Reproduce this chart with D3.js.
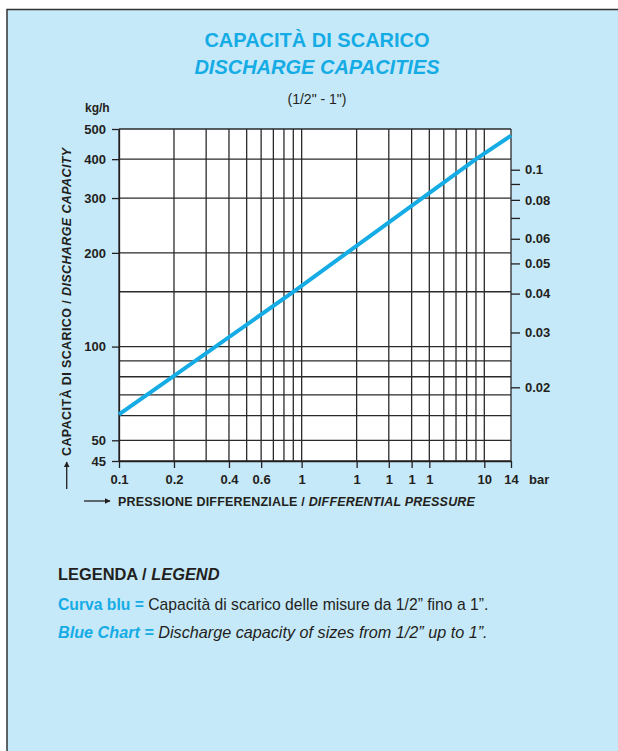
<!DOCTYPE html>
<html>
<head>
<meta charset="utf-8">
<script src="https://cdn.jsdelivr.net/npm/d3@7"></script>
<style>
  body { margin: 0; background: #fff; }
  svg { display: block; font-family: "Liberation Sans", Arial, sans-serif; }
</style>
</head>
<body>
<div id="chart"></div>
<script>
// pressure ticks (bar) and the labels printed under them (the "1"s are as in the original)
var xTicks = [0.1, 0.2, 0.4, 0.6, 1, 2, 3, 4, 5, 10, 14];
var xTickLabels = ["0.1", "0.2", "0.4", "0.6", "1", "1", "1", "1", "1", "10", "14"];
var xGrid = [0.1, 0.2, 0.3, 0.4, 0.5, 0.6, 0.7, 0.8, 0.9, 1, 2, 3, 4, 5, 6, 7, 8, 9, 10, 14];

// capacity ticks (kg/h)
var yTicks = [45, 50, 100, 200, 300, 400, 500];
var yGrid = [45, 50, 60, 70, 80, 90, 100, 150, 200, 300, 400, 500];

// secondary scale on the right
var rightTicks = [0.02, 0.03, 0.04, 0.05, 0.06, 0.07, 0.08, 0.09, 0.1];
var rightLabels = ["0.02", "0.03", "0.04", "0.05", "0.06", "", "0.08", "", "0.1"];
var rightRatio = 3700;

// blue curve, 1/2" - 1"
var curvePressure = [0.1, 0.2, 0.9, 9, 14];
var curveCapacity = [60.6, 80.5, 150, 400, 476];

var W = 618, H = 751;
var margin = { top: 129, right: 107, bottom: 290, left: 119 };
var plotW = W - margin.left - margin.right,
    plotH = H - margin.top - margin.bottom;

var ink = "#231f20", blue = "#15ace6";

var svg = d3.select("#chart").append("svg")
  .attr("width", W)
  .attr("height", H);

// panel
svg.append("rect")
  .attr("x", 7).attr("y", 9.5)
  .attr("width", W).attr("height", H)
  .attr("fill", "#c6e9f9")
  .attr("stroke", "#333")
  .attr("stroke-width", 1.5);

var x = d3.scaleLog()
  .domain([0.1, 14])
  .range([margin.left, margin.left + plotW]);

// bottom of the printed axis is squeezed: 45 sits lower than a pure log would put it
var y = d3.scaleLog()
  .domain([45, 50, 500])
  .range([margin.top + plotH, margin.top + plotH - 20.7, margin.top]);

var yRight = d3.scaleLog()
  .domain([50 / rightRatio, 500 / rightRatio])
  .range([y(50), y(500)]);

// titles
svg.append("text")
  .attr("x", 317).attr("y", 47)
  .attr("text-anchor", "middle")
  .attr("fill", blue)
  .style("font-size", "20px").style("font-weight", "bold")
  .text("CAPACITÀ DI SCARICO");

svg.append("text")
  .attr("x", 317).attr("y", 73.5)
  .attr("text-anchor", "middle")
  .attr("fill", blue)
  .style("font-size", "20px").style("font-weight", "bold").style("font-style", "italic")
  .text("DISCHARGE CAPACITIES");

svg.append("text")
  .attr("x", 317).attr("y", 104)
  .attr("text-anchor", "middle")
  .attr("fill", ink)
  .style("font-size", "14px")
  .text("(1/2\" - 1\")");

svg.append("text")
  .attr("x", 85).attr("y", 112)
  .attr("fill", ink)
  .style("font-size", "12px").style("font-weight", "bold")
  .text("kg/h");

// plot area
svg.append("rect")
  .attr("x", margin.left).attr("y", margin.top)
  .attr("width", plotW).attr("height", plotH)
  .attr("fill", "#fff");

var grid = svg.append("g")
  .attr("stroke", "#2a2a2a")
  .attr("stroke-width", 1.3);

grid.selectAll(".vx")
  .data(xGrid)
  .join("line")
  .attr("x1", d => x(d)).attr("x2", d => x(d))
  .attr("y1", margin.top).attr("y2", margin.top + plotH);

grid.selectAll(".hy")
  .data(yGrid)
  .join("line")
  .attr("x1", margin.left).attr("x2", margin.left + plotW)
  .attr("y1", d => y(d)).attr("y2", d => y(d));

// axes
var xAxis = svg.append("g")
  .attr("transform", "translate(0," + (margin.top + plotH) + ")")
  .call(d3.axisBottom(x)
    .tickValues(xTicks)
    .tickFormat((d, i) => xTickLabels[i])
    .tickSize(7)
    .tickPadding(6)
    .tickSizeOuter(0));

var yAxis = svg.append("g")
  .attr("transform", "translate(" + margin.left + ",0)")
  .call(d3.axisLeft(y)
    .tickValues(yTicks)
    .tickFormat(d3.format("d"))
    .tickSize(7)
    .tickPadding(6)
    .tickSizeOuter(0));

var rAxis = svg.append("g")
  .attr("transform", "translate(" + (margin.left + plotW) + ",0)")
  .call(d3.axisRight(yRight)
    .tickValues(rightTicks)
    .tickFormat((d, i) => rightLabels[i])
    .tickSize(9)
    .tickPadding(5)
    .tickSizeOuter(0));
rAxis.select(".domain").remove();

[xAxis, yAxis, rAxis].forEach(function (g) {
  g.select(".domain").attr("stroke", ink).attr("stroke-width", 1.3);
  g.selectAll(".tick line").attr("stroke", ink).attr("stroke-width", 1.3);
  g.selectAll(".tick text")
    .attr("fill", ink)
    .style("font-size", "13px")
    .style("font-weight", "bold")
    .style("font-family", "'Liberation Sans', Arial, sans-serif");
});
xAxis.selectAll(".tick text").attr("dy", "0.71em").attr("y", 14);

svg.append("text")
  .attr("x", x(14) + 18).attr("y", 484)
  .attr("fill", ink)
  .style("font-size", "13px").style("font-weight", "bold")
  .text("bar");

// curve
var curve = curvePressure.map((p, i) => [p, curveCapacity[i]]);
svg.append("path")
  .datum(curve)
  .attr("fill", "none")
  .attr("stroke", blue)
  .attr("stroke-width", 4)
  .attr("d", d3.line().x(d => x(d[0])).y(d => y(d[1])));

// axis titles with arrows
var defs = svg.append("defs");
defs.append("marker")
  .attr("id", "arr")
  .attr("viewBox", "0 0 10 10")
  .attr("refX", 9).attr("refY", 5)
  .attr("markerWidth", 6).attr("markerHeight", 6)
  .attr("markerUnits", "userSpaceOnUse")
  .attr("orient", "auto")
  .append("path")
  .attr("d", "M0,0L10,5L0,10z")
  .attr("fill", ink);

svg.append("line")
  .attr("x1", 84).attr("x2", 110)
  .attr("y1", 501).attr("y2", 501)
  .attr("stroke", ink).attr("stroke-width", 1.3)
  .attr("marker-end", "url(#arr)");

var xt = svg.append("text")
  .attr("x", 118).attr("y", 505.5)
  .attr("fill", ink)
  .style("font-size", "12.5px").style("font-weight", "bold")
  .style("letter-spacing", "0.2px");
xt.append("tspan").text("PRESSIONE DIFFERENZIALE / ");
xt.append("tspan").style("font-style", "italic").text("DIFFERENTIAL PRESSURE");

svg.append("line")
  .attr("x1", 66.7).attr("x2", 66.7)
  .attr("y1", 489).attr("y2", 462)
  .attr("stroke", ink).attr("stroke-width", 1.3)
  .attr("marker-end", "url(#arr)");

var yt = svg.append("text")
  .attr("transform", "translate(71,456) rotate(-90)")
  .attr("fill", ink)
  .style("font-size", "12.5px").style("font-weight", "bold")
  .style("letter-spacing", "0.4px");
yt.append("tspan").text("CAPACITÀ DI SCARICO / ");
yt.append("tspan").style("font-style", "italic").text("DISCHARGE CAPACITY");

// legend
var lg = svg.append("g").attr("transform", "translate(58,0)");

var l1 = lg.append("text")
  .attr("y", 580)
  .attr("fill", ink)
  .style("font-size", "16.4px").style("font-weight", "bold");
l1.append("tspan").text("LEGENDA / ");
l1.append("tspan").style("font-style", "italic").text("LEGEND");

var l2 = lg.append("text")
  .attr("y", 609.5)
  .attr("fill", ink)
  .style("font-size", "15.7px");
l2.append("tspan").attr("fill", blue).style("font-weight", "bold").text("Curva blu = ");
l2.append("tspan").text("Capacità di scarico delle misure da 1/2” fino a 1”.");

var l3 = lg.append("text")
  .attr("y", 638)
  .attr("fill", ink)
  .style("font-size", "16.2px").style("font-style", "italic");
l3.append("tspan").attr("fill", blue).style("font-weight", "bold").text("Blue Chart = ");
l3.append("tspan").text("Discharge capacity of sizes from 1/2” up to 1”.");
</script>
</body>
</html>
